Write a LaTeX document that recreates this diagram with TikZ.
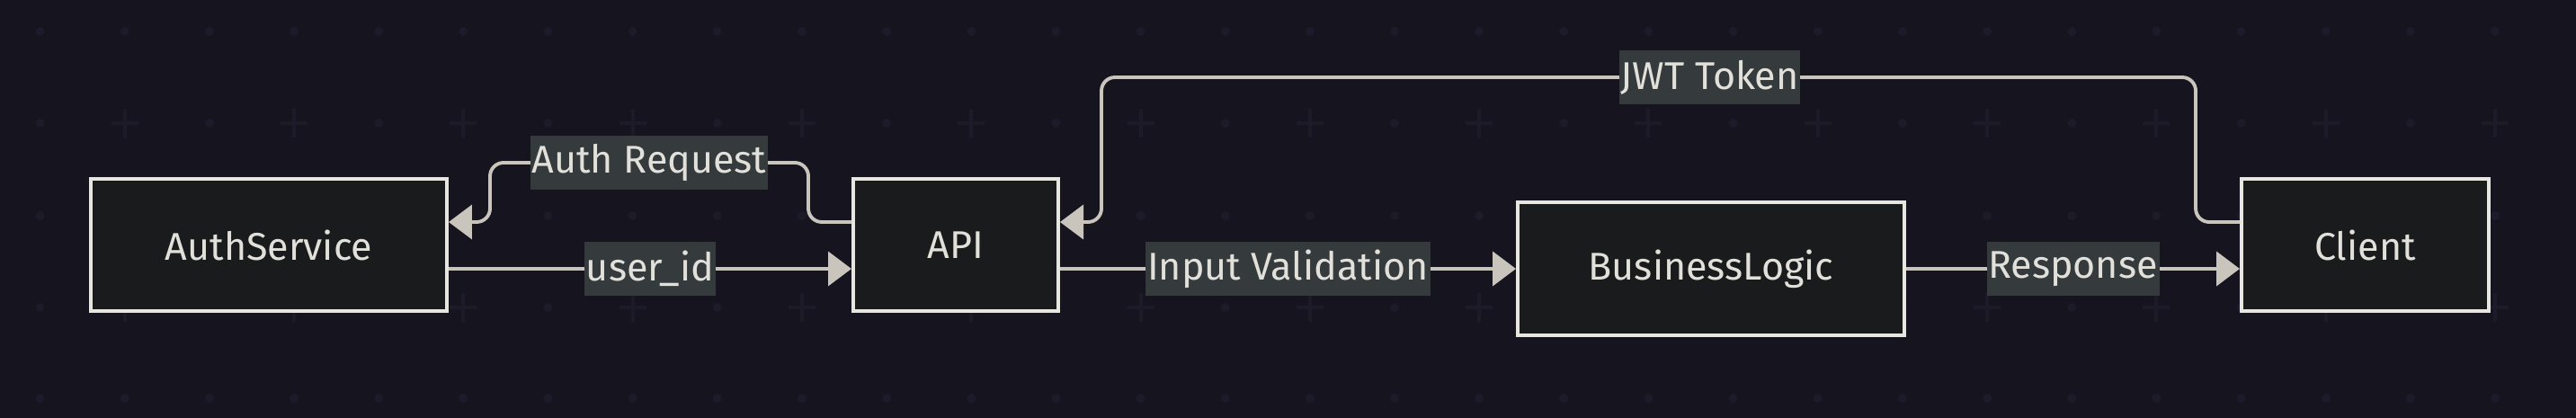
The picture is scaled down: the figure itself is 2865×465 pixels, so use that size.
\documentclass[tikz,border=0pt]{standalone}
\usepackage{fontspec}
\setmainfont{Fira Sans}
\usepackage{tikz}
\usetikzlibrary{arrows.meta}
\definecolor{bgcol}{HTML}{16141F}
\definecolor{gridcol}{HTML}{1D1B2A}
\definecolor{boxfill}{HTML}{1A1B1D}
\definecolor{boxline}{HTML}{E8E6E1}
\definecolor{lblfill}{HTML}{353A3C}
\definecolor{flowcol}{HTML}{C9C5BD}
\definecolor{txt}{HTML}{E2E0DA}

\begin{document}
\begin{tikzpicture}[x=0.02cm,y=-0.02cm,font=\fontsize{24.5}{29}\selectfont,
  box/.style={draw=boxline,line width=2.3pt,fill=boxfill,text=txt,inner sep=0pt,minimum height=2.94cm},
  lbl/.style={fill=lblfill,text=txt,sharp corners,inner xsep=1pt,inner ysep=0pt,minimum height=1.2cm},
  flow/.style={draw=flowcol,line width=2.2pt,rounded corners=0.3cm,-{Triangle[length=0.52cm,width=0.76cm]}}]
\fill[bgcol] (0,0) rectangle (2865,465);
\foreach \j in {35,240,443}{\foreach \k in {0,...,29}{\fill[gridcol] (44.6+94.15*\k,\j) circle (0.1cm);}}
\foreach \j in {137,342}{\foreach \k in {0,2,...,28}{\fill[gridcol] (44.6+94.15*\k,\j) circle (0.1cm);}}
\foreach \j in {137,342}{\foreach \k in {1,3,...,29}{\draw[gridcol,line width=0.08cm] (29.6+94.15*\k,\j) -- ++(30,0) (44.6+94.15*\k,\j-16) -- ++(0,32);}}
\node[box,minimum width=7.92cm] (auth) at (299,272.5) {AuthService};
\node[box,minimum width=4.56cm] (api) at (1063,272.5) {API};
\node[box,minimum width=8.6cm,minimum height=2.96cm] (biz) at (1903,299) {BusinessLogic};
\node[box,minimum width=5.5cm] (client) at (2630.5,272.5) {Client};
\draw[flow] (auth.east |- biz) -- node[lbl]{user\_id} (api.west |- biz);
\draw[flow] (api.east |- biz) -- node[lbl]{Input Validation} (biz.west);
\draw[flow] (biz.east) -- node[lbl]{Response} (client.west |- biz);
\draw[flow] ([yshift=0.51cm]api.west) -- ++(-48,0) -- ++(0,-66) -- node[lbl]{Auth Request} ++(-354,0) -- ++(0,66) -- ([yshift=0.51cm]auth.east);
\draw[flow] ([yshift=0.51cm]client.west) -- ++(-49,0) -- ++(0,-161) -- node[lbl,pos=0.444]{JWT Token} ++(-1217,0) -- ++(0,161) -- ([yshift=0.51cm]api.east);
\end{tikzpicture}
\end{document}
